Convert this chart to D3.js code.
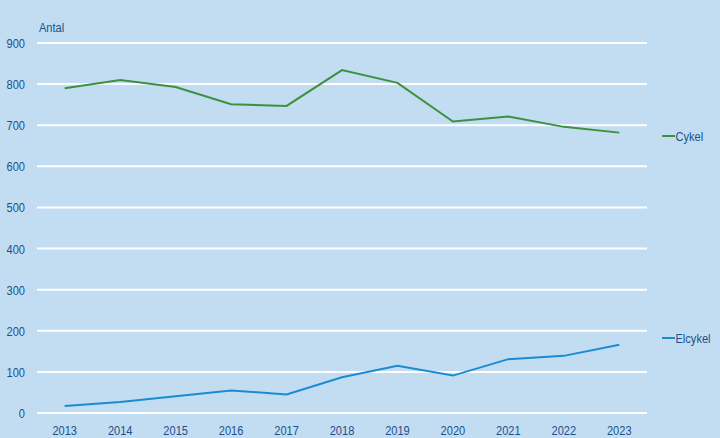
<!DOCTYPE html>
<html><head><meta charset="utf-8">
<script src="https://cdn.jsdelivr.net/npm/d3@7"></script>
<style>
html,body{margin:0;padding:0;background:#c2ddf2;}
svg{display:block;}
text{font-family:"Liberation Sans",Arial,sans-serif;fill:#1d4f8a;}
</style></head><body>
<svg id="c" width="720" height="438"></svg>
<script>
const years = ["2013","2014","2015","2016","2017","2018","2019","2020","2021","2022","2023"];
const cykel = [790, 810, 793, 751, 747, 834, 803, 709, 721, 696, 682];
const elcykel = [17, 27, 41, 55, 45, 87, 115, 91, 131, 139, 166];
const yTicks = [0,100,200,300,400,500,600,700,800,900];
const seriesNames = ["Cykel","Elcykel"];
const colors = ["#3c913f","#1a8bd3"];

(function(){
const svg = d3.select("#c");
svg.append("rect").attr("width",720).attr("height",438).attr("fill","#c2ddf2");
const mL = 37, mR = 647, mT = 43, mB = 413;
const fs = 13.5, sx = 0.82;
const x = d3.scaleBand().domain(years).range([mL,mR]);
const y = d3.scaleLinear().domain([0,900]).range([mB,mT]);
const tr = (px,py)=>`translate(${px},${py}) scale(${sx},1)`;

const g = svg.append("g");
g.selectAll("line.grid").data(yTicks).enter().append("line")
  .attr("x1",mL).attr("x2",mR)
  .attr("y1",d=>y(d)).attr("y2",d=>y(d))
  .attr("stroke","#ffffff").attr("stroke-width",2);

g.selectAll("text.yl").data(yTicks).enter().append("text")
  .attr("transform",d=>tr(25,y(d)+5)).attr("text-anchor","end")
  .attr("font-size",fs).text(d=>d);

svg.append("text").attr("transform",tr(39,32)).attr("font-size",fs).text("Antal");

g.selectAll("text.xl").data(years).enter().append("text")
  .attr("transform",d=>tr(x(d)+x.bandwidth()/2,435)).attr("text-anchor","middle")
  .attr("font-size",fs).text(d=>d);

const line = d3.line().x((d,i)=>x(years[i])+x.bandwidth()/2).y(d=>y(d));
[cykel,elcykel].forEach((s,k)=>{
  svg.append("path").datum(s).attr("d",line).attr("fill","none")
    .attr("stroke",colors[k]).attr("stroke-width",2);
});

seriesNames.forEach((n,k)=>{
  const ly = k===0 ? 136 : 338;
  svg.append("line").attr("x1",662).attr("x2",675).attr("y1",ly).attr("y2",ly)
    .attr("stroke",colors[k]).attr("stroke-width",2);
  svg.append("text").attr("transform",tr(675.5,ly+5)).attr("font-size",fs).text(n);
});
})();
</script>
</body></html>
